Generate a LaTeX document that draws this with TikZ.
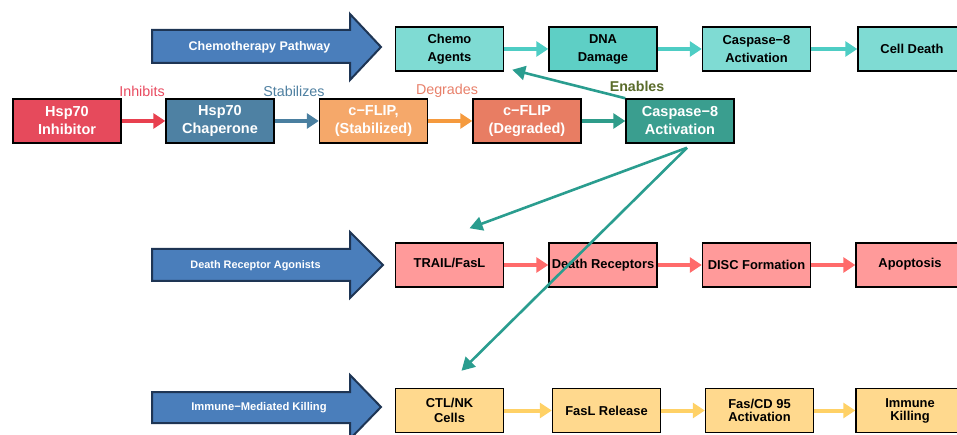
\documentclass[tikz,border=0pt]{standalone}
\usepackage{fontspec}
\setmainfont{Liberation Sans}
\usetikzlibrary{arrows.meta,calc}
\definecolor{chemofill}{HTML}{7FDBD3}
\definecolor{dnafill}{HTML}{5ECFC5}
\definecolor{chemoarr}{HTML}{4ECDC4}
\definecolor{inhfill}{HTML}{E64A5C}
\definecolor{chapfill}{HTML}{4E81A3}
\definecolor{stabfill}{HTML}{F5A86A}
\definecolor{degfill}{HTML}{E87D63}
\definecolor{cdfill}{HTML}{3A9E8F}
\definecolor{inharr}{HTML}{E8404F}
\definecolor{staarr}{HTML}{4A7FA0}
\definecolor{degarr}{HTML}{F59A3E}
\definecolor{cdarr}{HTML}{2E9C8A}
\definecolor{inhtxt}{HTML}{E84A5F}
\definecolor{statxt}{HTML}{4E7FA0}
\definecolor{degtxt}{HTML}{E8806A}
\definecolor{enatxt}{HTML}{5A6B2A}
\definecolor{drfill}{HTML}{FF9A9A}
\definecolor{drarr}{HTML}{FF6B6B}
\definecolor{imfill}{HTML}{FFD98E}
\definecolor{imarr}{HTML}{FFD166}
\definecolor{bigfill}{HTML}{4A7EBB}
\definecolor{bigedge}{HTML}{1E3554}
\definecolor{tealline}{HTML}{2A9D8F}
\begin{document}
\begin{tikzpicture}[x=1pt,y=-1pt,
  box/.style={draw=black, line width=1.5pt, minimum width=108pt, minimum height=44pt, inner sep=1pt, align=center},
  wbox/.style={box, text=white, font=\bfseries\fontsize{14.5}{18}\selectfont},
  kbox/.style={box, text=black, font=\bfseries\fontsize{12.9}{18}\selectfont},
  rowarr/.style={line width=4pt, -{Triangle[length=12pt,width=15pt]}},
  longarr/.style={line width=2.6pt, tealline, -{Triangle[length=13pt,width=14pt]}},
  bigarrow/.style={fill=bigfill, draw=bigedge, line width=2pt, line join=miter},
  bigtxt/.style={text=white, font=\bfseries\fontsize{12.5}{15}\selectfont},
  lbl/.style={font=\fontsize{14.3}{17}\selectfont}
]
\useasboundingbox (0,0) rectangle (957,435);

% big arrows
\draw[bigarrow] (152,30) -- (350,30) -- (350,14) -- (381,47) -- (350,80) -- (350,63) -- (152,63) -- cycle;
\node[bigtxt] (chp) at (259.5,47) {Chemotherapy Pathway};
\draw[bigarrow] (152,249) -- (350,249) -- (350,232) -- (383,265) -- (350,298) -- (350,281) -- (152,281) -- cycle;
\node[bigtxt, font=\bfseries\fontsize{10.9}{13}\selectfont] (dra) at (255.5,266) {Death Receptor Agonists};
\draw[bigarrow] (152,392) -- (350,392) -- (350,375) -- (381,407) -- (350,439) -- (350,423) -- (152,423) -- cycle;
\node[bigtxt, font=\bfseries\fontsize{11.2}{13}\selectfont] (imk) at (259,408) {Immune−Mediated Killing};

% row 1
\node[kbox, fill=chemofill] (chemo) at (449.5,49) {Chemo\\Agents};
\node[kbox, fill=dnafill] (dna) at (603,49) {DNA\\Damage};
\node[kbox, fill=chemofill] (c8a) at (756.5,49) {Caspase−8\\Activation};
\node[kbox, fill=chemofill] (cdeath) at (912,49) {Cell Death};
\draw[rowarr, chemoarr] (chemo.east) -- (dna.west);
\draw[rowarr, chemoarr] (dna.east) -- (c8a.west);
\draw[rowarr, chemoarr] (c8a.east) -- (cdeath.west);

% row 2
\node[wbox, fill=inhfill] (inh) at (67,121) {Hsp70\\Inhibitor};
\node[wbox, fill=chapfill] (chap) at (220,121) {Hsp70\\Chaperone};
\node[wbox, fill=stabfill] (stab) at (373.5,121) {c−FLIP,\\(Stabilized)};
\node[wbox, fill=degfill] (deg) at (527,121) {c−FLIP\\(Degraded)};
\node[wbox, fill=cdfill] (cd) at (680,121) {Caspase−8\\Activation};
\draw[rowarr, inharr] (inh.east) -- (chap.west);
\draw[rowarr, staarr] (chap.east) -- (stab.west);
\draw[rowarr, degarr] (stab.east) -- (deg.west);
\draw[rowarr, cdarr] (deg.east) -- (cd.west);
\node[lbl, text=inhtxt] (linh) at (142,91) {Inhibits};
\node[lbl, text=statxt] (lsta) at (294,91) {Stabilizes};
\node[lbl, text=degtxt] (ldeg) at (447,91) {Degrades};
\node[lbl, text=enatxt, font=\bfseries\fontsize{14.2}{17}\selectfont] (lena) at (637,86) {Enables};

% row 3
\node[kbox, fill=drfill] (trail) at (449.5,265) {\raisebox{4pt}{TRAIL/FasL}};
\node[kbox, fill=drfill] (dr) at (603,265) {Death Receptors};
\node[kbox, fill=drfill] (disc) at (756.5,265) {DISC Formation};
\node[kbox, fill=drfill] (apo) at (910,265) {\raisebox{4pt}{Apoptosis}};
\draw[rowarr, drarr] (trail.east) -- (dr.west);
\draw[rowarr, drarr] (dr.east) -- (disc.west);
\draw[rowarr, drarr] (disc.east) -- (apo.west);

% row 4
\node[kbox, fill=imfill, font=\bfseries\fontsize{12.9}{15}\selectfont] (ctl) at (449.5,410.5) {CTL/NK\\Cells};
\node[kbox, fill=imfill] (fasl) at (606.5,410.5) {FasL Release};
\node[kbox, fill=imfill, font=\bfseries\fontsize{12.9}{12.5}\selectfont] (fas) at (759.5,410.5) {Fas/CD 95\\Activation};
\node[kbox, fill=imfill, font=\bfseries\fontsize{12.9}{13}\selectfont] (ik) at (910,410.5) {Immune\\Killing};
\draw[rowarr, imarr] (ctl.east) -- (fasl.west);
\draw[rowarr, imarr] (fasl.east) -- (fas.west);
\draw[rowarr, imarr] (fas.east) -- (ik.west);

% teal connectors
\coordinate (src) at ([shift={(7,4)}]cd.south);
\draw[longarr] (cd.north west) -- ([shift={(8,-2)}]chemo.south east);
\draw[longarr] (src) -- ([shift={(20,-14)}]trail.north);
\draw[longarr] (src) -- ([shift={(12,-17)}]ctl.north);
\end{tikzpicture}
\end{document}
